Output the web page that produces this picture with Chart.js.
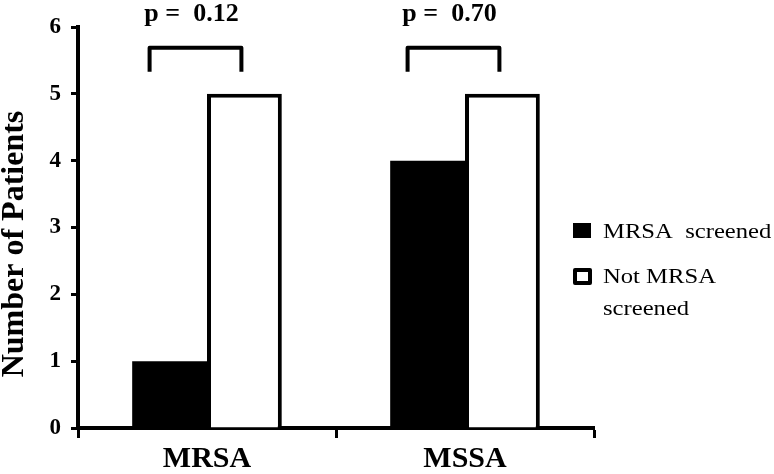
<!DOCTYPE html>
<html>
<head>
<meta charset="utf-8">
<script src="https://cdn.jsdelivr.net/npm/chart.js@4/dist/chart.umd.min.js"></script>
<style>
  html, body { margin: 0; padding: 0; background: #fff; }
  #wrap { width: 774px; height: 474px; }
</style>
</head>
<body>
<div id="wrap"><canvas id="c" width="774" height="474"></canvas></div>
<script>
// chart data
const categories = ['MRSA', 'MSSA'];
const screened = [1, 4];
const notScreened = [5, 5];
const seriesNames = [['MRSA  screened'], ['Not MRSA', 'screened']];
const pValues = ['p =  0.12', 'p =  0.70'];
const yTicks = [0, 1, 2, 3, 4, 5, 6];
const yTitle = 'Number of Patients';

const serif = '"Liberation Serif", "DejaVu Serif", serif';

// brackets + p values above each group
const bracketPlugin = {
  id: 'brackets',
  afterDatasetsDraw(chart) {
    const ctx = chart.ctx;
    const y = chart.scales.y;
    const a = chart.getDatasetMeta(0).data;
    const b = chart.getDatasetMeta(1).data;
    ctx.save();
    ctx.strokeStyle = '#000';
    ctx.lineWidth = 4;
    ctx.lineCap = 'butt';
    ctx.lineJoin = 'round';
    a.forEach((bar, i) => {
      const x1 = bar.x - 20;
      const x2 = b[i].x - 3;
      const top = y.getPixelForValue(5.69);
      const bot = y.getPixelForValue(5.33);
      ctx.beginPath();
      ctx.moveTo(x1, bot);
      ctx.lineTo(x1, top);
      ctx.lineTo(x2, top);
      ctx.lineTo(x2, bot);
      ctx.stroke();
      ctx.fillStyle = '#000';
      ctx.font = 'bold 26px ' + serif;
      ctx.textAlign = 'center';
      ctx.textBaseline = 'middle';
      ctx.fillText(pValues[i], (x1 + x2) / 2 - 4, y.getPixelForValue(6.19));
    });
    ctx.restore();
  }
};

// y title, drawn by hand so it sits where the original has it
const titlePlugin = {
  id: 'yTitle',
  afterDraw(chart) {
    const ctx = chart.ctx;
    ctx.save();
    ctx.translate(15, 244);
    ctx.rotate(-Math.PI / 2);
    ctx.fillStyle = '#000';
    ctx.font = 'bold 32px ' + serif;
    ctx.textAlign = 'center';
    ctx.textBaseline = 'middle';
    ctx.fillText(yTitle, 0, 0);
    ctx.restore();
  }
};

// legend drawn to the right of the plot
const legendPlugin = {
  id: 'sideLegend',
  afterDraw(chart) {
    const ctx = chart.ctx;
    const x0 = chart.chartArea.right - 21;
    const rows = [231, 276];
    ctx.save();
    ctx.font = '22px ' + serif;
    ctx.textBaseline = 'middle';
    ctx.textAlign = 'left';
    chart.data.datasets.forEach((ds, i) => {
      const cy = rows[i];
      if (ds.borderWidth) {
        ctx.fillStyle = '#fff';
        ctx.fillRect(x0, cy - 8, 19, 17);
        ctx.strokeStyle = '#000';
        ctx.lineWidth = 4;
        ctx.lineJoin = 'round';
        ctx.strokeRect(x0 + 2, cy - 6, 15, 13);
      } else {
        ctx.fillStyle = '#000';
        ctx.fillRect(x0, cy - 8, 18, 15);
      }
      ctx.fillStyle = '#000';
      seriesNames[i].forEach((line, j) => {
        ctx.save();
        ctx.translate(x0 + 30, cy + 1 + j * 32);
        ctx.scale(1.12, 1);
        ctx.fillText(line, 0, 0);
        ctx.restore();
      });
    });
    ctx.restore();
  }
};

new Chart(document.getElementById('c'), {
  type: 'bar',
  data: {
    labels: categories,
    datasets: [
      {
        label: seriesNames[0].join(' '),
        data: screened,
        backgroundColor: '#000',
        borderWidth: 0
      },
      {
        label: seriesNames[1].join(' '),
        data: notScreened,
        backgroundColor: '#fff',
        borderColor: '#000',
        borderWidth: 4
      }
    ]
  },
  options: {
    responsive: false,
    animation: false,
    devicePixelRatio: 1,
    categoryPercentage: 0.58,
    barPercentage: 1.0,
    layout: { padding: { left: 0, right: 180, top: 27, bottom: 0 } },
    plugins: {
      legend: { display: false },
      tooltip: { enabled: false }
    },
    scales: {
      x: {
        grid: {
          display: true,
          drawOnChartArea: false,
          offset: true,
          tickLength: 10,
          tickWidth: 3,
          tickColor: '#000'
        },
        border: { display: true, color: '#000', width: 4 },
        ticks: {
          color: '#000',
          padding: 3,
          font: { family: serif, size: 30, weight: 'bold' }
        },
        afterFit(s) { s.height = 46; }
      },
      y: {
        min: 0,
        max: 6,
        afterBuildTicks(s) { s.ticks = yTicks.map(v => ({ value: v })); },
        grid: {
          display: true,
          drawOnChartArea: false,
          tickLength: 7,
          tickWidth: 3,
          tickColor: '#000'
        },
        border: { display: true, color: '#000', width: 4 },
        ticks: {
          color: '#000',
          padding: 10,
          font: { family: serif, size: 23, weight: 'bold' }
        },
        afterFit(s) { s.width = 78; }
      }
    }
  },
  plugins: [bracketPlugin, titlePlugin, legendPlugin]
});
</script>
</body>
</html>
